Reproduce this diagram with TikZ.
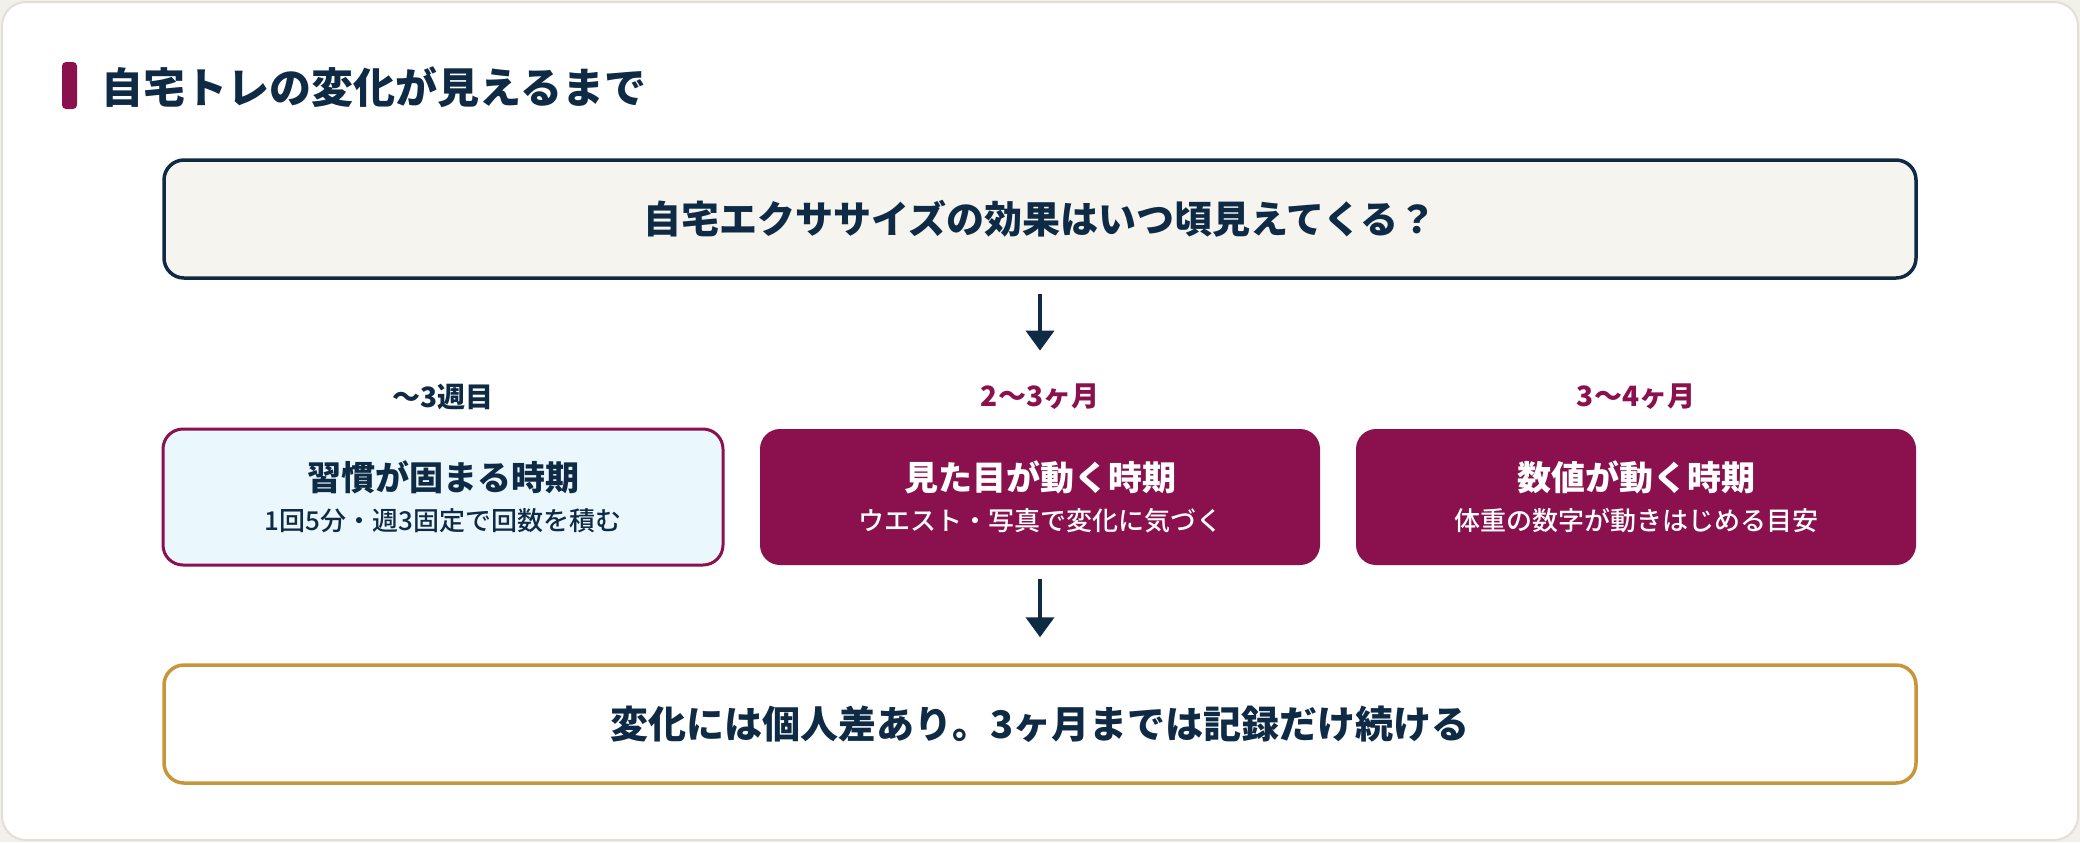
\documentclass[tikz,border=0pt]{standalone}
\usepackage{fontspec}
\setmainfont{Noto Sans CJK JP}[FontFace={mb}{n}{Font=* Medium}]
\usetikzlibrary{arrows.meta,positioning}
\definecolor{navy}{HTML}{0F2A44}
\definecolor{wine}{HTML}{8A104E}
\definecolor{ice}{HTML}{EAF7FD}
\definecolor{paper}{HTML}{F5F4EF}
\definecolor{gold}{HTML}{C8963A}
\definecolor{rim}{HTML}{E2E0D5}
\definecolor{outside}{HTML}{F1F0EA}
\tikzset{>={Triangle[width=14pt,length=10pt]}}
\tikzset{wide/.style={line width=1.75pt, rounded corners=10pt, minimum width=876pt, minimum height=59pt, text=navy, font=\fontsize{19}{22}\selectfont\bfseries}}
\tikzset{phase/.style={rounded corners=10pt, minimum width=280pt, minimum height=68pt, align=center, font=\fontsize{17}{22}\selectfont\bfseries}}
\tikzset{when/.style={font=\fontsize{14}{16}\selectfont\bfseries, inner sep=0pt}}
\tikzset{flow/.style={->, navy, line width=2pt}}
\newcommand\subline[1]{{\fontsize{13}{16}\fontseries{mb}\selectfont #1}}

\begin{document}
\begin{tikzpicture}[x=0.5pt,y=-0.5pt]
      \fill[outside] (0,0) rectangle (2080,842);
      \draw[rim, fill=white, line width=1pt, rounded corners=12pt] (2,2) rectangle (2078,840);
      \fill[wine, rounded corners=2pt] (62,62) rectangle (77,109);
      \node[anchor=west, inner sep=0pt, text=navy, font=\fontsize{21}{24}\selectfont\bfseries] (title) at (101,87) {自宅トレの変化が見えるまで};

      \node[wide, draw=navy, fill=paper] (q) at (1040,219) {自宅エクササイズの効果はいつ頃見えてくる？};

      \node[phase, draw=wine, line width=1.5pt, fill=ice, text=navy] (m1) at (443,497) {習慣が固まる時期\\[-2pt]\subline{1回5分・週3固定で回数を積む}};
      \node[phase, fill=wine, text=white] (m2) at (1040,497) {見た目が動く時期\\[-2pt]\subline{ウエスト・写真で変化に気づく}};
      \node[phase, fill=wine, text=white] (m3) at (1636,497) {数値が動く時期\\[-2pt]\subline{体重の数字が動きはじめる目安}};

      \node[when, text=navy] (w1) at (443,397) {〜3週目};
      \node[when, text=wine] (w2) at (1040,397) {2〜3ヶ月};
      \node[when, text=wine] (w3) at (1636,397) {3〜4ヶ月};

      \node[wide, draw=gold, fill=white] (b) at (1040,724) {変化には個人差あり。3ヶ月までは記録だけ続ける};

      \draw[flow, shorten <=7pt, shorten >=39pt] (q.south) -- (m2.north);
      \draw[flow, shorten <=7pt, shorten >=13pt] (m2.south) -- (b.north);
    \end{tikzpicture}
\end{document}
